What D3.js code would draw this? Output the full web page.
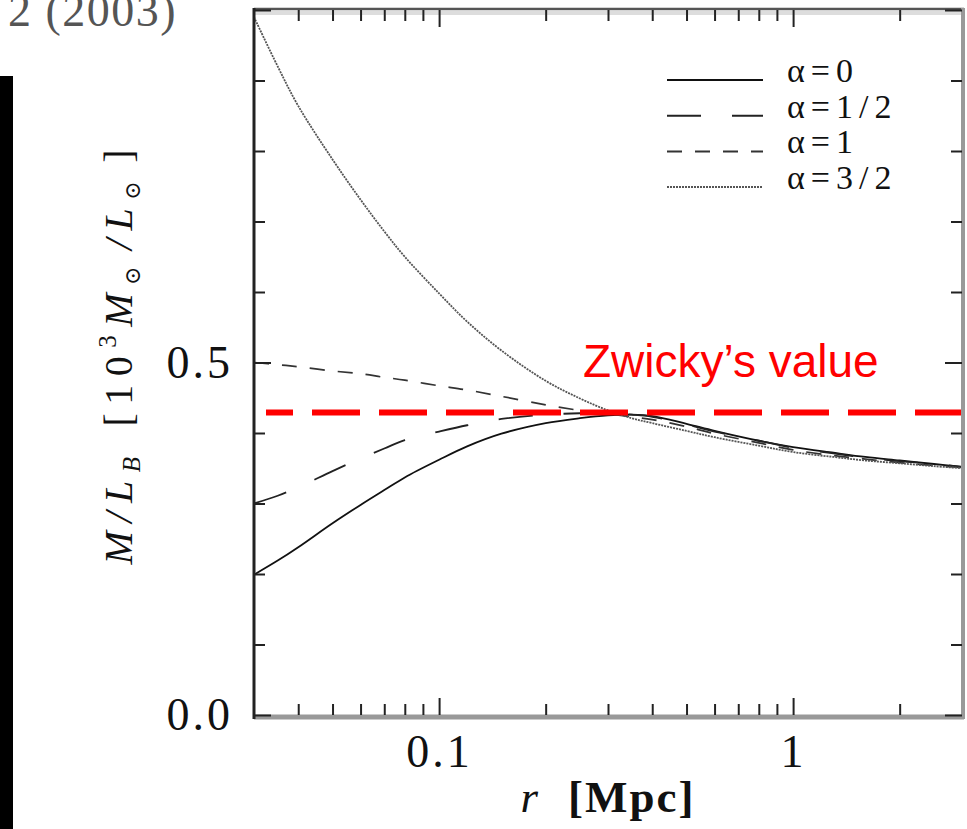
<!DOCTYPE html>
<html lang="en">
<head>
<meta charset="UTF-8"/>
<title>M/L vs r</title>
<script src="https://d3js.org/d3.v7.min.js"></script>
<style>
  body { margin: 0; background: #fff; }
  svg { display: block; }
  .tick text { font-family: "Liberation Serif", "DejaVu Serif", serif; fill: #111; }
</style>
</head>
<body>
<div id="chart"></div>
<script>

// radius grid [Mpc]
var radii = [0.03, 0.035, 0.04, 0.05, 0.06, 0.07, 0.08, 0.1, 0.12, 0.15, 0.2, 0.25, 0.3, 0.35, 0.4, 0.5, 0.6, 0.8, 1.0, 1.3, 1.6, 2.0, 2.5, 3.0];

// M/L_B for each alpha
var alpha0   = [0.199, 0.219, 0.238, 0.272, 0.298, 0.319, 0.337, 0.362, 0.381, 0.399, 0.414, 0.421, 0.425, 0.426, 0.424, 0.413, 0.403, 0.389, 0.380, 0.372, 0.366, 0.361, 0.356, 0.352];
var alphaHalf = [0.300, 0.311, 0.323, 0.346, 0.364, 0.378, 0.390, 0.402, 0.411, 0.420, 0.426, 0.428, 0.428, 0.426, 0.423, 0.412, 0.402, 0.389, 0.379, 0.371, 0.365, 0.360, 0.356, 0.352];
var alpha1   = [0.500, 0.497, 0.494, 0.488, 0.484, 0.479, 0.475, 0.467, 0.461, 0.452, 0.440, 0.432, 0.427, 0.423, 0.419, 0.409, 0.399, 0.386, 0.376, 0.368, 0.363, 0.358, 0.354, 0.351];
var alpha32  = [0.990, 0.920, 0.864, 0.788, 0.731, 0.686, 0.650, 0.598, 0.558, 0.517, 0.474, 0.449, 0.432, 0.421, 0.414, 0.403, 0.394, 0.382, 0.373, 0.366, 0.361, 0.357, 0.353, 0.350];

var seriesNames = ["\u03b1=0", "\u03b1=1/2", "\u03b1=1", "\u03b1=3/2"];
var zwickyValue = 0.429;

var xMajor = [0.1, 1];
var xMinor = [0.04, 0.05, 0.06, 0.07, 0.08, 0.09, 0.2, 0.3, 0.4, 0.5, 0.6, 0.7, 0.8, 0.9, 2];
var yMajor = [0, 0.5, 1];
var yMinor = [0.1, 0.2, 0.3, 0.4, 0.6, 0.7, 0.8, 0.9];

var w = 967, h = 829;
// plot box (note: "top" is taken by window.top, so use pX names)
var pLeft = 254, pRight = 962, pTop = 10, pBottom = 715;

var svg = d3.select("#chart").append("svg")
    .attr("width", w)
    .attr("height", h);

var xScale = d3.scaleLog().domain([0.03, 3]).range([pLeft, pRight]);
var yScale = d3.scaleLinear().domain([0, 1]).range([pBottom, pTop]);

// crop leftovers of the original page
svg.append("rect").attr("x", 0).attr("y", 76).attr("width", 13).attr("height", h - 76).attr("fill", "#000");
svg.append("text")
    .attr("x", 8).attr("y", 26)
    .attr("font-family", "Liberation Serif, serif")
    .attr("font-size", 46)
    .attr("letter-spacing", 1.5)
    .attr("fill", "#555")
    .text("2 (2003)");

// curves
var styles = [
  { data: alpha0,    dash: null,       color: "#111", width: 1.8 },
  { data: alphaHalf, dash: "34,31",    color: "#222", width: 1.8 },
  { data: alpha1,    dash: "15,13",    color: "#333", width: 1.7 },
  { data: alpha32,   dash: "2,1",      color: "#555", width: 1.8 }
];

var line = d3.line()
    .x(function(d){ return xScale(d[0]); })
    .y(function(d){ return yScale(d[1]); })
    .curve(d3.curveCatmullRom.alpha(0.5));

styles.forEach(function(s){
  svg.append("path")
     .datum(d3.zip(radii, s.data))
     .attr("d", line)
     .attr("fill", "none")
     .attr("stroke", s.color)
     .attr("stroke-width", s.width)
     .attr("stroke-dasharray", s.dash);
});

// legend
var legend = svg.append("g");
styles.forEach(function(s, i){
  var ly = 80 + i * 35.7;
  legend.append("line")
      .attr("x1", 667).attr("x2", 763)
      .attr("y1", ly).attr("y2", ly)
      .attr("stroke", s.color)
      .attr("stroke-width", 2)
      .attr("stroke-dasharray", s.dash);
  legend.append("text")
      .attr("x", 787).attr("y", ly + 2)
      .attr("font-family", "Liberation Serif, serif")
      .attr("font-size", 34)
      .attr("letter-spacing", 6)
      .attr("fill", "#111")
      .text(seriesNames[i]);
});

// Zwicky's value
svg.append("line")
    .attr("x1", 266).attr("x2", pRight)
    .attr("y1", yScale(zwickyValue)).attr("y2", yScale(zwickyValue))
    .attr("stroke", "#ff0000")
    .attr("stroke-width", 6)
    .attr("stroke-dasharray", "48,19")
    .attr("stroke-dashoffset", 21);

svg.append("text")
    .attr("x", 583).attr("y", 377)
    .attr("font-family", "Liberation Sans, Arial, sans-serif")
    .attr("font-size", 46)
    .attr("fill", "#ff0000")
    .text("Zwicky\u2019s value");

// frame
svg.append("line").attr("x1", pLeft).attr("x2", pRight).attr("y1", pTop + 3).attr("y2", pTop + 3).attr("stroke", "#ddd").attr("stroke-width", 4);
svg.append("line").attr("x1", pLeft).attr("x2", pRight + 2).attr("y1", pTop - 1).attr("y2", pTop - 1).attr("stroke", "#555").attr("stroke-width", 2.5);
svg.append("line").attr("x1", pLeft).attr("x2", pRight + 2).attr("y1", pBottom + 2).attr("y2", pBottom + 2).attr("stroke", "#999").attr("stroke-width", 5);
svg.append("line").attr("x1", pRight + 1).attr("x2", pRight + 1).attr("y1", pTop - 2).attr("y2", pBottom + 4).attr("stroke", "#999").attr("stroke-width", 4);
svg.append("line").attr("x1", pLeft).attr("x2", pLeft).attr("y1", pTop - 2).attr("y2", pBottom + 4).attr("stroke", "#222").attr("stroke-width", 3);

// ticks
function styleAxis(g){
  g.select(".domain").remove();
  g.selectAll(".tick line").attr("stroke", "#222").attr("stroke-width", 2);
}

svg.append("g").attr("transform", "translate(0," + pBottom + ")")
   .call(d3.axisBottom(xScale).tickValues(xMajor).tickSize(-17).tickPadding(19).tickFormat(d3.format("")))
   .call(styleAxis)
   .selectAll("text").attr("font-size", 46).attr("letter-spacing", 3);
svg.append("g").attr("transform", "translate(0," + pBottom + ")")
   .call(d3.axisBottom(xScale).tickValues(xMinor).tickSize(-11).tickFormat(""))
   .call(styleAxis);
svg.append("g").attr("transform", "translate(0," + pTop + ")")
   .call(d3.axisTop(xScale).tickValues(xMajor).tickSize(-17).tickFormat(""))
   .call(styleAxis);
svg.append("g").attr("transform", "translate(0," + pTop + ")")
   .call(d3.axisTop(xScale).tickValues(xMinor).tickSize(-11).tickFormat(""))
   .call(styleAxis);

svg.append("g").attr("transform", "translate(" + pLeft + ",0)")
   .call(d3.axisLeft(yScale).tickValues(yMajor).tickSize(-17).tickPadding(21)
        .tickFormat(function(d){ return d === 1 ? "" : d3.format(".1f")(d); }))
   .call(styleAxis)
   .selectAll("text").attr("font-size", 46).attr("letter-spacing", 3);
svg.append("g").attr("transform", "translate(" + pLeft + ",0)")
   .call(d3.axisLeft(yScale).tickValues(yMinor).tickSize(-11).tickFormat(""))
   .call(styleAxis);
svg.append("g").attr("transform", "translate(" + pRight + ",0)")
   .call(d3.axisRight(yScale).tickValues(yMajor).tickSize(-17).tickFormat(""))
   .call(styleAxis);
svg.append("g").attr("transform", "translate(" + pRight + ",0)")
   .call(d3.axisRight(yScale).tickValues(yMinor).tickSize(-11).tickFormat(""))
   .call(styleAxis);

// axis titles
var xt = svg.append("text")
    .attr("x", 608).attr("y", 812)
    .attr("text-anchor", "middle")
    .attr("font-family", "Liberation Serif, serif")
    .attr("font-size", 45)
    .attr("fill", "#111");
xt.append("tspan").attr("font-style", "italic").text("r");
xt.append("tspan").attr("dx", 30).attr("letter-spacing", 2).attr("font-weight", "bold").text("[Mpc]");

var yt = svg.append("text")
    .attr("transform", "translate(132,357) rotate(-90)")
    .attr("text-anchor", "middle")
    .attr("font-family", "Liberation Serif, DejaVu Serif, serif")
    .attr("font-size", 40)
    .attr("fill", "#111")
    .attr("textLength", 415)
    .attr("lengthAdjust", "spacing");
yt.append("tspan").attr("font-style", "italic").text("M/L");
yt.append("tspan").attr("font-style", "italic").attr("font-size", 25).attr("dy", 8).text("B");
yt.append("tspan").attr("dy", -8).attr("dx", 22).text("[10");
yt.append("tspan").attr("font-size", 25).attr("dy", -16).text("3");
yt.append("tspan").attr("font-style", "italic").attr("dy", 16).text("M");
yt.append("tspan").attr("font-size", 22).attr("dy", 8).text("\u2299");
yt.append("tspan").attr("font-style", "italic").attr("dy", -8).attr("dx", 8).text("/L");
yt.append("tspan").attr("font-size", 22).attr("dy", 8).text("\u2299");
yt.append("tspan").attr("dy", -8).attr("dx", 10).text("]");

</script>
</body>
</html>
